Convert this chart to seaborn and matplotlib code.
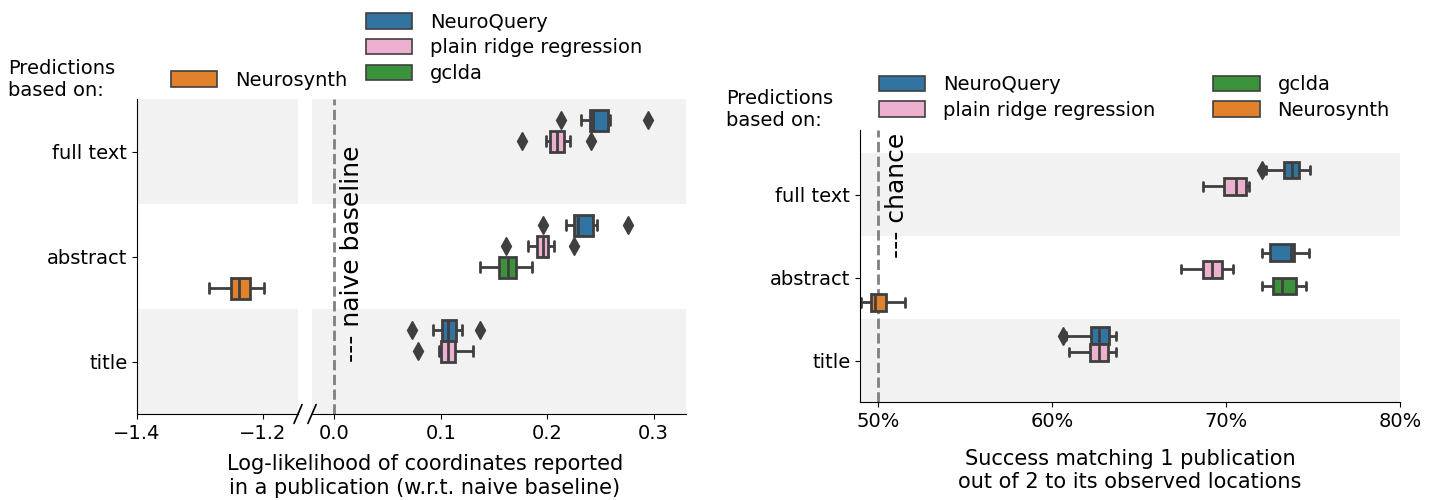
import pandas as pd
import numpy as np
import matplotlib.pyplot as plt
import seaborn as sns
from matplotlib.patches import Patch

sns.set_style('ticks')
plt.rcParams['font.family'] = ['DejaVu Sans']
plt.rcParams['font.size'] = 14
plt.rcParams['text.color'] = 'black'
plt.rcParams['xtick.color'] = 'black'
plt.rcParams['ytick.color'] = 'black'
plt.rcParams['axes.labelcolor'] = 'black'
plt.rcParams['axes.edgecolor'] = 'black'

categories = ['full text', 'abstract', 'title']
methods = ['NeuroQuery', 'plain ridge regression', 'gclda', 'Neurosynth']
colors = ['tab:blue', '#f7a6d2', 'tab:green', 'tab:orange']

# (category, method, lo whisker, q1, median, q3, hi whisker, outliers)
left_stats = [
    ('full text', 'NeuroQuery', 0.232, 0.2406, 0.243, 0.2573, 0.259, [0.213, 0.295]),
    ('full text', 'plain ridge regression', 0.199, 0.2026, 0.209, 0.2156, 0.2216, [0.176, 0.241]),
    ('abstract', 'NeuroQuery', 0.218, 0.225, 0.229, 0.2433, 0.2466, [0.196, 0.2756]),
    ('abstract', 'plain ridge regression', 0.1824, 0.19, 0.196, 0.2006, 0.2065, [0.1617, 0.225]),
    ('abstract', 'gclda', 0.1373, 0.155, 0.163, 0.1707, 0.1856, []),
    ('abstract', 'Neurosynth', -1.2853, -1.251, -1.2384, -1.2207, -1.1986, []),
    ('title', 'NeuroQuery', 0.0923, 0.101, 0.1067, 0.114, 0.12, [0.0734, 0.1373]),
    ('title', 'plain ridge regression', 0.0983, 0.1005, 0.1067, 0.1132, 0.13, [0.0784]),
]
right_stats = [
    ('full text', 'NeuroQuery', 72.3, 73.36, 73.8, 74.18, 74.84, [72.07]),
    ('full text', 'plain ridge regression', 68.7, 69.9, 70.6, 71.15, 71.3, []),
    ('abstract', 'NeuroQuery', 72.07, 72.55, 73.73, 73.9, 74.76, []),
    ('abstract', 'plain ridge regression', 67.44, 68.68, 69.2, 69.77, 70.4, []),
    ('abstract', 'gclda', 72.07, 72.7, 73.2, 74.0, 74.6, []),
    ('abstract', 'Neurosynth', 49.05, 49.6, 49.86, 50.46, 51.58, []),
    ('title', 'NeuroQuery', 60.8, 62.27, 62.7, 63.28, 63.7, [60.65]),
    ('title', 'plain ridge regression', 60.98, 62.2, 62.7, 63.2, 63.7, []),
]


def to_long(stats):
    # points whose quartiles / whiskers reproduce the summary
    rows = []
    for cat, meth, lo, q1, med, q3, hi, out in stats:
        vals = [lo] + [q1] * 3 + [med] * 3 + [q3] * 3 + [hi] + list(out)
        rows += [(cat, meth, v) for v in vals]
    return pd.DataFrame(rows, columns=['category', 'method', 'value'])


left_df = to_long(left_stats)
right_df = to_long(right_stats)

box_kw = dict(y='category', x='value', hue='method', order=categories,
              hue_order=methods, palette=colors, orient='h', width=0.8,
              linewidth=2, linecolor='#3f3f3f', legend=False,
              flierprops=dict(marker='d', markerfacecolor='#3f3f3f',
                              markeredgecolor='#3f3f3f', markersize=9))

fig = plt.figure(figsize=(14.38, 5), dpi=100)
ax_l1 = fig.add_axes([137 / 1438, 0.172, 161 / 1438, 0.63])
ax_l2 = fig.add_axes([312 / 1438, 0.172, 374 / 1438, 0.63])
ax_r = fig.add_axes([860 / 1438, 0.196, 540 / 1438, 0.544])

for ax in (ax_l1, ax_l2, ax_r):
    for i in (0, 2):
        ax.axhspan(i - 0.5, i + 0.5, color='#f2f2f2', zorder=0, lw=0)

# broken axis: same data on both halves, each half shows its own x range
sns.boxplot(data=left_df, ax=ax_l1, **box_kw)
sns.boxplot(data=left_df, ax=ax_l2, **box_kw)
sns.boxplot(data=right_df, ax=ax_r, **box_kw)

ax_l1.set_xlim(-1.4, -1.1445)
ax_l1.set_xticks([-1.4, -1.2])
ax_l1.set_xticklabels(['\u22121.4', '\u22121.2'])
ax_l2.set_xlim(-0.021, 0.3305)
ax_l2.set_xticks([0.0, 0.1, 0.2, 0.3])
for ax in (ax_l1, ax_l2):
    ax.set_ylim(2.5, -0.5)
    ax.set_xlabel('')
    ax.set_ylabel('')
    ax.spines['top'].set_visible(False)
    ax.spines['right'].set_visible(False)
ax_l2.spines['left'].set_visible(False)
ax_l2.set_yticks([])
ax_l2.axvline(0, color='grey', ls='--', lw=2, zorder=1)
ax_l2.text(0.005, 2.0, '--- naive baseline', rotation=90, fontsize=18,
           ha='left', va='bottom')

# break marks
d = dict(color='k', lw=1.2, clip_on=False)
for ax, x0, dx in ((ax_l1, 1.0, 0.025), (ax_l2, 0.0, 0.011)):
    ax.plot([x0 - dx, x0 + dx], [-0.03, 0.03], transform=ax.transAxes, **d)

fig.text(425 / 1438, 0.005,
         'Log-likelihood of coordinates reported\nin a publication (w.r.t. naive baseline)',
         ha='center', va='bottom', fontsize=15)

ax_r.set_ylim(2.5, -0.78)
ax_r.set_xlim(48.97, 80)
ax_r.set_xticks([50, 60, 70, 80])
ax_r.set_xticklabels(['50%', '60%', '70%', '80%'])
ax_r.set_ylabel('')
ax_r.set_xlabel('Success matching 1 publication\nout of 2 to its observed locations',
                fontsize=15, labelpad=13)
ax_r.spines['top'].set_visible(False)
ax_r.spines['right'].set_visible(False)
ax_r.axvline(50, color='grey', ls='--', lw=2, zorder=1)
ax_r.text(50.4, 0.76, '--- chance', rotation=90, fontsize=18, ha='left', va='bottom')

handles = [Patch(facecolor=sns.desaturate(c, 0.75), edgecolor='#3f3f3f', lw=1.2, label=m)
           for c, m in zip(colors, methods)]
leg_kw = dict(frameon=False, fontsize=14, handlelength=2.4, handleheight=0.85,
              labelspacing=0.35, handletextpad=0.9)
fig.legend(handles=handles[:3], loc='upper left', bbox_to_anchor=(348 / 1438, 1.01), **leg_kw)
fig.legend(handles=handles[3:], loc='center left', bbox_to_anchor=(153 / 1438, 0.84), **leg_kw)
fig.text(8 / 1438, 0.80, 'Predictions\nbased on:', fontsize=14, ha='left', va='bottom')
fig.legend(handles=handles, loc='upper left', ncol=2, columnspacing=3.0,
           bbox_to_anchor=(861 / 1438, 0.885), **leg_kw)
fig.text(726 / 1438, 0.74, 'Predictions\nbased on:', fontsize=14, ha='left', va='bottom')

plt.savefig('out.png', dpi=100)
